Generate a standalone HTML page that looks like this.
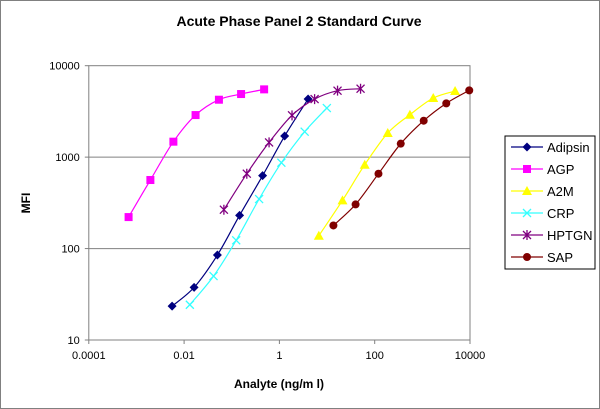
<!DOCTYPE html>
<html><head><meta charset="utf-8"><style>
body{margin:0;background:#fff}
svg{display:block;font-family:"Liberation Sans",sans-serif}
</style></head><body>
<svg id="chart" width="600" height="409" viewBox="0 0 600 409">
<rect x="0.5" y="0.5" width="599" height="408" fill="#fff" stroke="#808080"/>
<text x="299" y="26" text-anchor="middle" font-size="14" font-weight="bold">Acute Phase Panel 2 Standard Curve</text>
<rect x="88.8" y="65.7" width="381.2" height="274.3" fill="#fff" stroke="#808080"/>
<g id="grid"></g><g id="axes"></g><g id="series"></g>
<text x="279" y="388" text-anchor="middle" font-size="12" font-weight="bold">Analyte (ng/m l)</text>
<text transform="translate(30,203) rotate(-90)" text-anchor="middle" font-size="12" font-weight="bold">MFI</text>
<rect x="505" y="136" width="90" height="133" fill="#fff" stroke="#000" stroke-width="1"/>
<g id="legend"></g>
</svg>
<script>
const seriesNames=["Adipsin","AGP","A2M","CRP","HPTGN","SAP"];
const adipsinX=[0.0056,0.0162,0.050,0.146,0.444,1.29,4.0];
const adipsinY=[23.5,37.6,85,231,627,1702,4320];
const agpX=[0.000684,0.00196,0.00596,0.0174,0.0538,0.157,0.478];
const agpY=[221,562,1476,2884,4246,4898,5510];
const a2mX=[6.72,21.1,61.8,188,548,1694,4863];
const a2mY=[138,337,826,1835,2911,4430,5280];
const crpX=[0.0132,0.0415,0.124,0.375,1.10,3.39,9.9];
const crpY=[24.3,50,123,348,869,1897,3443];
const hptgnX=[0.0684,0.207,0.607,1.84,5.48,16.6,50.5];
const hptgnY=[266,659,1449,2864,4315,5330,5600];
const sapX=[13.6,39.7,120,352,1067,3177,9640];
const sapY=[179,304,659,1403,2503,3873,5370];
const xTicks=[0.0001,0.01,1,100,10000];
const xTickLabels=["0.0001","0.01","1","100","10000"];
const yTicks=[10,100,1000,10000];
const yTickLabels=["10","100","1000","10000"];

const NS="http://www.w3.org/2000/svg";
const L=88.8,R=470,T=65.7,B=340;
function xs(v){return L+(Math.log10(v)+4)/8*(R-L);}
function ys(v){return B-(Math.log10(v)-1)/3*(B-T);}
function mk(tag,attrs,parent){const e=document.createElementNS(NS,tag);for(const k in attrs)e.setAttribute(k,attrs[k]);parent.appendChild(e);return e;}
const grid=document.getElementById('grid'),axes=document.getElementById('axes'),ser=document.getElementById('series'),leg=document.getElementById('legend');
yTicks.forEach((t,i)=>{
  const y=ys(t);
  if(i>0&&i<yTicks.length-1){const g=mk('line',{x1:L,x2:R,y1:y,y2:y,stroke:'#808080'},grid);
  
  }
  const tk=mk('line',{x1:L-4,x2:L,y1:y,y2:y,stroke:'#808080'},axes);
  
  
  const tx=mk('text',{x:L-9,y:y+4,'text-anchor':'end','font-size':'11'},axes);
  tx.textContent=yTickLabels[i];
  
  
});
xTicks.forEach((t,i)=>{
  const x=xs(t);
  const tk=mk('line',{x1:x,x2:x,y1:B,y2:B+4,stroke:'#808080'},axes);
  
  
  const tx=mk('text',{x:x,y:B+19,'text-anchor':'middle','font-size':'11'},axes);
  tx.textContent=xTickLabels[i];
  
  
});
const colors=["#000080","#ff00ff","#ffff00","#33ffff","#800080","#800000"];
const shapes=["diamond","square","triangle","x","star","circle"];
const data=[[adipsinX,adipsinY],[agpX,agpY],[a2mX,a2mY],[crpX,crpY],[hptgnX,hptgnY],[sapX,sapY]];
function marker(shape,x,y,c,p){
  let e;
  if(shape=="diamond")e=mk('path',{d:`M${x} ${y-4.5}L${x+4.5} ${y}L${x} ${y+4.5}L${x-4.5} ${y}Z`,fill:c},p);
  else if(shape=="square")e=mk('rect',{x:x-4,y:y-4,width:8,height:8,fill:c},p);
  else if(shape=="triangle")e=mk('path',{d:`M${x} ${y-5}L${x+5} ${y+4}L${x-5} ${y+4}Z`,fill:c},p);
  else if(shape=="x")e=mk('path',{d:`M${x-4} ${y-4}L${x+4} ${y+4}M${x+4} ${y-4}L${x-4} ${y+4}`,stroke:c,'stroke-width':1.3},p);
  else if(shape=="star")e=mk('path',{d:`M${x-4} ${y-4}L${x+4} ${y+4}M${x+4} ${y-4}L${x-4} ${y+4}M${x} ${y-5}L${x} ${y+5}`,stroke:c,'stroke-width':1.3},p);
  else e=mk('circle',{cx:x,cy:y,r:4,fill:c},p);
  return e;
}
function smooth(pts){
  let d=`M${pts[0][0]} ${pts[0][1]}`;
  for(let i=0;i<pts.length-1;i++){
    const p0=pts[Math.max(0,i-1)],p1=pts[i],p2=pts[i+1],p3=pts[Math.min(pts.length-1,i+2)];
    const c1=[p1[0]+(p2[0]-p0[0])/6,p1[1]+(p2[1]-p0[1])/6],c2=[p2[0]-(p3[0]-p1[0])/6,p2[1]-(p3[1]-p1[1])/6];
    d+=`C${c1[0]} ${c1[1]} ${c2[0]} ${c2[1]} ${p2[0]} ${p2[1]}`;
  }
  return d;
}
data.forEach((s,si)=>{
  const g=mk('g',{},ser);
  
  
  const pts=s[0].map((v,i)=>[xs(v),ys(s[1][i])]);
  const ln=mk('path',{d:smooth(pts),fill:'none',stroke:colors[si],'stroke-width':1.2},g);
  
  
  pts.forEach(p=>{const m=marker(shapes[si],p[0],p[1],colors[si],g);
    
    });
  const ly=147+si*22;
  const lg=mk('g',{},leg);
  
  
  mk('line',{x1:511,x2:543,y1:ly,y2:ly,stroke:colors[si],'stroke-width':1.2},lg);
  marker(shapes[si],527,ly,colors[si],lg);
  const t=mk('text',{x:547,y:ly+5,'font-size':'13'},lg);
  t.textContent=seriesNames[si];
});
</script>
</body></html>
